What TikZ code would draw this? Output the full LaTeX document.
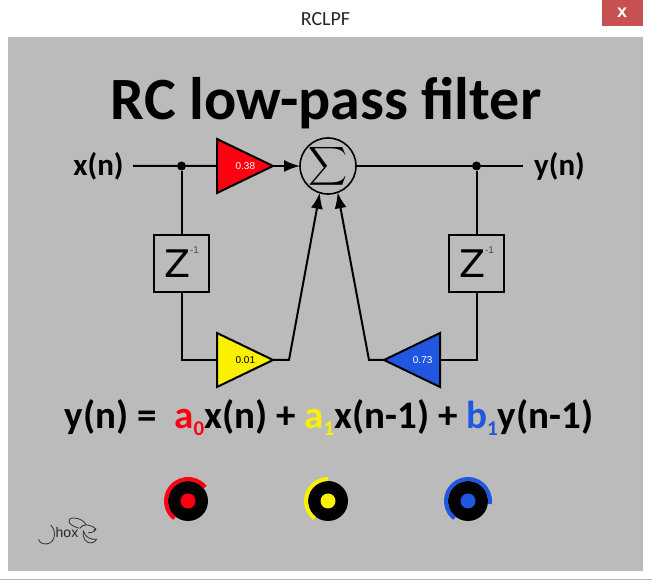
\documentclass[tikz,border=0pt]{standalone}
\usepackage{fontspec}
\usepackage{graphicx}
\setmainfont{Carlito}
\newfontfamily\labelfont{Liberation Sans}
\newfontfamily\delayfont{DejaVu Sans}
\usetikzlibrary{shapes.geometric,arrows.meta}
\definecolor{panelgray}{HTML}{BBBBBB}
\definecolor{closered}{HTML}{C75050}
\definecolor{gainred}{HTML}{FF0010}
\definecolor{gainyellow}{HTML}{FAF000}
\definecolor{gainblue}{HTML}{1F57E0}
\tikzset{
  wire/.style={line width=2pt},
  feed/.style={wire, ->, >={Latex[length=16pt,width=12pt]}},
  gain/.style={draw, line width=2pt, isosceles triangle, isosceles triangle stretches, minimum width=54pt, minimum height=56pt, inner sep=0pt, outer sep=0pt, font=\labelfont\fontsize{10}{10}\selectfont},
  delaybox/.style={draw, line width=2pt, rectangle, minimum width=55pt, minimum height=57pt, inner sep=0pt},
  junction/.style={circle, fill=black, minimum size=9pt, inner sep=0pt},
  signal/.style={font=\bfseries\fontsize{31}{31}\selectfont},
  knob/.style={circle, fill=black, minimum size=40pt, inner sep=0pt},
  knobdot/.style={circle, minimum size=15pt, inner sep=0pt},
  knobarc/.style={line width=4pt},
}
\newcommand{\zinv}{\delayfont\fontsize{38}{38}\selectfont Z\smash{\raisebox{24pt}{\labelfont\fontsize{10}{10}\selectfont\color{black!70}-1}}}
\newcommand{\coef}[1]{\raisebox{-7pt}{\fontsize{21}{21}\selectfont #1}}
\begin{document}
\begin{tikzpicture}[x=1pt,y=1pt]

\useasboundingbox (0,0) rectangle (652,580);
\fill[white] (0,0) rectangle (652,580);
\draw[black!30] (0,0.5) -- (652,0.5);
\fill[panelgray] (8,9) rectangle (642.5,543);
\fill[closered] (602,554) rectangle (643,580);

\node (window) at (325.5,561) [font=\fontsize{20}{20}\selectfont, text=black!85] {RCLPF};
\node (close) at (622,567) [font=\labelfont\bfseries\fontsize{18}{18}\selectfont, text=white] {x};
\node (heading) at (326,477) [inner sep=0pt, font=\bfseries\fontsize{60}{60}\selectfont] {RC low-pass filter};

\node (input) at (98.5,414) [signal] {x(n)};
\node (output) at (559.5,414) [signal] {y(n)};
\coordinate (inend) at (133,414);
\coordinate (outend) at (523,414);
\node (injoin) at (181.5,414) [junction] {};
\node (outjoin) at (476.5,414) [junction] {};

\node (sum) at (328,414) [draw, circle, line width=1.6pt, minimum size=56pt, inner sep=0pt, outer sep=0pt] {};
\node (sumsign) at (sum) [inner sep=0pt] {\scalebox{2.7}{$\displaystyle\sum$}};
\node (gaina) at (217,414) [gain, anchor=lower side, fill=gainred, text=white] {\hspace*{14pt}0.38};
\node (gainb) at (217,220) [gain, anchor=lower side, fill=gainyellow] {\hspace*{14pt}0.01};
\node (gainc) at (440,220) [gain, anchor=lower side, shape border rotate=180, fill=gainblue, text=white] {\hspace*{4pt}0.73};
\node (delayx) at (181.5,316.5) [delaybox] {\zinv};
\node (delayy) at (476.5,316.5) [delaybox] {\zinv};
\coordinate (bendb) at (289,220);
\coordinate (bendc) at (369,220);

\draw[wire] (inend) -- (injoin) -- (gaina);
\draw[feed] (gaina.apex) -- (sum);
\draw[wire] (injoin) -- (delayx);
\draw[wire] (delayx) |- (gainb);
\draw[feed] (gainb.apex) -- (bendb) -- (sum.-107);
\draw[wire] (sum) -- (outjoin) -- (outend);
\draw[wire] (outjoin) -- (delayy);
\draw[wire] (delayy) |- (gainc);
\draw[feed] (gainc.apex) -- (bendc) -- (sum.-70);

\node (formula) at (329,162) [font=\bfseries\fontsize{39}{39}\selectfont] {y(n) =\ \ {\color{gainred}a\coef{0}}x(n) + {\color{gainyellow}a\coef{1}}x(n-1) + {\color{gainblue}b\coef{1}}y(n-1)};

\node (knoba) at (188,79) [knob] {};
\node (knobb) at (328,79) [knob] {};
\node (knobc) at (468,79) [knob] {};
\node (dota) at (knoba) [knobdot, fill=gainred] {};
\node (dotb) at (knobb) [knobdot, fill=gainyellow] {};
\node (dotc) at (knobc) [knobdot, fill=gainblue] {};
\draw[knobarc, gainred] (knoba) ++(232:22) arc[start angle=232, end angle=39, radius=22];
\draw[knobarc, gainyellow] (knobb) ++(232:22) arc[start angle=232, end angle=90, radius=22];
\draw[knobarc, gainblue] (knobc) ++(232:22) arc[start angle=232, end angle=-8, radius=22];

\node (logotext) at (67,48) [font=\labelfont\fontsize{14}{14}\selectfont, text=black!85] {hox};
\begin{scope}[shift={(20,120)},x=0.333pt,y=-0.333pt,line width=0.8pt,black!80]
\draw (92,195) .. controls (112,215) and (105,250) .. (80,252) .. controls (68,253) and (58,248) .. (56,238);
\draw (178,205) .. controls (140,195) and (140,175) .. (160,174) .. controls (180,174) and (195,185) .. (198,195);
\draw (180,205) .. controls (188,190) and (210,192) .. (228,207) .. controls (225,215) and (215,220) .. (205,218);
\draw (190,212) .. controls (195,232) and (212,240) .. (230,238) .. controls (225,250) and (205,255) .. (195,240) .. controls (190,232) and (188,222) .. (190,212);
\fill (224,210) circle[radius=3.5];
\end{scope}

\end{tikzpicture}
\end{document}
